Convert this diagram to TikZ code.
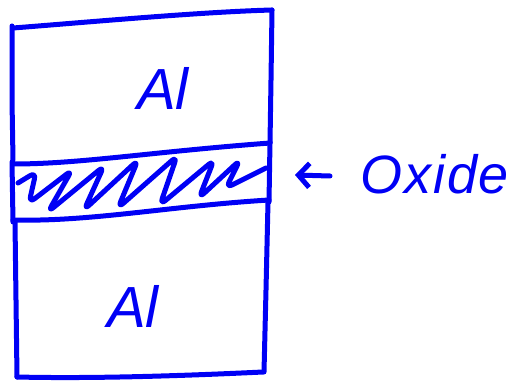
\documentclass[tikz,border=0pt]{standalone}
\usepackage{fontspec}
\setmainfont{Liberation Sans}
\usetikzlibrary{arrows.meta}
\definecolor{pen}{RGB}{0,0,245}
\tikzset{
  ink/.style={draw=pen, line width=5pt, line cap=round, line join=round},
  hand/.style={text=pen, font=\itshape\fontsize{58}{60}\selectfont, inner sep=0pt},
}
\begin{document}
\begin{tikzpicture}[x=1pt,y=-1pt]
\useasboundingbox (0,0) rectangle (527,385);
% top Al box
\draw[ink] (13,28) .. controls (90,22) and (200,12) .. (272,10);
\draw[ink] (12,26) -- (12,100) -- (13,160);
\draw[ink] (272,10) -- (271,80) -- (270,143);
% oxide band
\draw[ink] (13,164) .. controls (80,164) and (150,152) .. (270,143);
\draw[ink] (13,220) .. controls (90,222) and (170,206) .. (269,200);
\draw[ink] (12,162) -- (13,222);
\draw[ink] (270,142) -- (269,202);
% hatch zigzag
\draw[ink, rounded corners=7pt] (18,183) -- (36,172) -- (29,203) -- (72,170) -- (48,212)
  -- (104,166) -- (84,210) -- (138,160) -- (118,208) -- (177,156) -- (160,205)
  -- (214,160) -- (199,198) -- (240,160) -- (226,188) -- (266,168);
% bottom Al box
\draw[ink] (15,222) -- (16,300) -- (17,377);
\draw[ink] (17,377) .. controls (100,379) and (200,375) .. (263,372);
\draw[ink] (268,202) -- (266,290) -- (264,372);
% labels
\node[hand] (altop) at (163,88) {Al};
\node[hand] (albot) at (133,306) {Al};
\node[hand, font=\itshape\fontsize{54}{58}\selectfont, anchor=west] (oxide) at (360,174) {O\kern2pt x\kern2pt i\kern2pt d\kern1pt e};
\coordinate (tip) at (295,175);
\draw[ink, -{Straight Barb[length=11pt,width=24pt]}] ([xshift=-30pt,yshift=-2pt]oxide.west) -- (tip);
\end{tikzpicture}
\end{document}
